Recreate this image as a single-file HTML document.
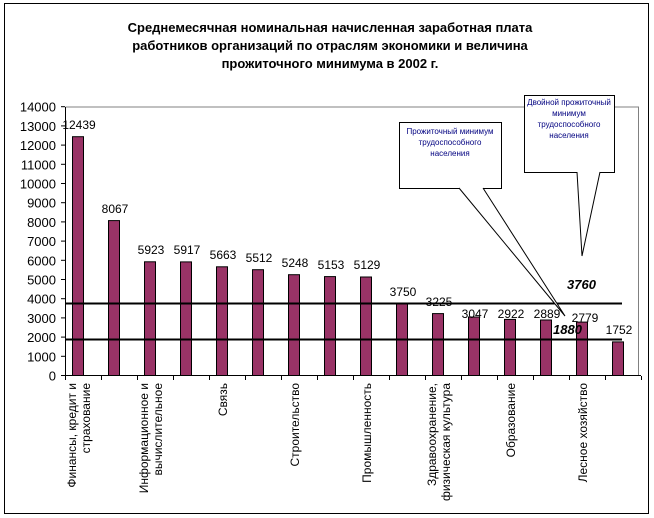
<!DOCTYPE html>
<html><head><meta charset="utf-8"><style>body{margin:0;background:#fff}svg{display:block}text{font-family:"Liberation Sans",sans-serif}</style></head><body>
<svg width="654" height="518" xmlns="http://www.w3.org/2000/svg">
<rect x="4.5" y="3.5" width="644" height="510" fill="#fff" stroke="#000"/>
<g font-weight="bold" font-size="13" text-anchor="middle">
<text x="330" y="32">Среднемесячная номинальная начисленная заработная плата</text>
<text x="330" y="50">работников организаций по отраслям экономики и величина</text>
<text x="330" y="68">прожиточного минимума в 2002 г.</text>
</g>
<polyline points="65.5,107 638.5,107 638.5,376" fill="none" stroke="#808080"/>
<line x1="65.5" y1="107" x2="65.5" y2="376" stroke="#000"/>
<line x1="65" y1="375.5" x2="641" y2="375.5" stroke="#000"/>
<g stroke="#000">
<line x1="61" x2="65" y1="375.5" y2="375.5"/><line x1="61" x2="65" y1="356.3" y2="356.3"/><line x1="61" x2="65" y1="337.1" y2="337.1"/><line x1="61" x2="65" y1="317.9" y2="317.9"/><line x1="61" x2="65" y1="298.7" y2="298.7"/><line x1="61" x2="65" y1="279.5" y2="279.5"/><line x1="61" x2="65" y1="260.3" y2="260.3"/><line x1="61" x2="65" y1="241.1" y2="241.1"/><line x1="61" x2="65" y1="221.9" y2="221.9"/><line x1="61" x2="65" y1="202.7" y2="202.7"/><line x1="61" x2="65" y1="183.5" y2="183.5"/><line x1="61" x2="65" y1="164.3" y2="164.3"/><line x1="61" x2="65" y1="145.1" y2="145.1"/><line x1="61" x2="65" y1="125.9" y2="125.9"/><line x1="61" x2="65" y1="106.7" y2="106.7"/>
<line x1="65.5" x2="65.5" y1="376" y2="380"/><line x1="101.5" x2="101.5" y1="376" y2="380"/><line x1="137.5" x2="137.5" y1="376" y2="380"/><line x1="173.5" x2="173.5" y1="376" y2="380"/><line x1="209.5" x2="209.5" y1="376" y2="380"/><line x1="245.5" x2="245.5" y1="376" y2="380"/><line x1="281.5" x2="281.5" y1="376" y2="380"/><line x1="317.5" x2="317.5" y1="376" y2="380"/><line x1="353.5" x2="353.5" y1="376" y2="380"/><line x1="389.5" x2="389.5" y1="376" y2="380"/><line x1="425.5" x2="425.5" y1="376" y2="380"/><line x1="461.5" x2="461.5" y1="376" y2="380"/><line x1="497.5" x2="497.5" y1="376" y2="380"/><line x1="533.5" x2="533.5" y1="376" y2="380"/><line x1="569.5" x2="569.5" y1="376" y2="380"/><line x1="605.5" x2="605.5" y1="376" y2="380"/><line x1="641.5" x2="641.5" y1="376" y2="380"/>
</g>
<g font-size="13" text-anchor="end">
<text x="56" y="380.5">0</text><text x="56" y="361.3">1000</text><text x="56" y="342.1">2000</text><text x="56" y="322.9">3000</text><text x="56" y="303.7">4000</text><text x="56" y="284.5">5000</text><text x="56" y="265.3">6000</text><text x="56" y="246.1">7000</text><text x="56" y="226.9">8000</text><text x="56" y="207.7">9000</text><text x="56" y="188.5">10000</text><text x="56" y="169.3">11000</text><text x="56" y="150.1">12000</text><text x="56" y="130.9">13000</text><text x="56" y="111.7">14000</text>
</g>
<g fill="#993366" stroke="#000">
<rect x="72.5" y="136.7" width="11" height="238.8"/><rect x="108.5" y="220.6" width="11" height="154.9"/><rect x="144.5" y="261.8" width="11" height="113.7"/><rect x="180.5" y="261.9" width="11" height="113.6"/><rect x="216.5" y="266.8" width="11" height="108.7"/><rect x="252.5" y="269.7" width="11" height="105.8"/><rect x="288.5" y="274.7" width="11" height="100.8"/><rect x="324.5" y="276.6" width="11" height="98.9"/><rect x="360.5" y="277" width="11" height="98.5"/><rect x="396.5" y="303.5" width="11" height="72"/><rect x="432.5" y="313.6" width="11" height="61.9"/><rect x="468.5" y="317" width="11" height="58.5"/><rect x="504.5" y="319.4" width="11" height="56.1"/><rect x="540.5" y="320" width="11" height="55.5"/><rect x="576.5" y="322.1" width="11" height="53.4"/><rect x="612.5" y="341.9" width="11" height="33.6"/>
</g>
<g font-size="12" text-anchor="middle">
<text x="79" y="129">12439</text><text x="115" y="213">8067</text><text x="151" y="254">5923</text><text x="187" y="254">5917</text><text x="223" y="259">5663</text><text x="259" y="262">5512</text><text x="295" y="267">5248</text><text x="331" y="269">5153</text><text x="367" y="269">5129</text><text x="403" y="296">3750</text><text x="439" y="306">3225</text><text x="475" y="318">3047</text><text x="511" y="318">2922</text><text x="547" y="318">2889</text><text x="585" y="322">2779</text><text x="619" y="334">1752</text>
</g>
<line x1="65" y1="303.5" x2="622" y2="303.5" stroke="#000" stroke-width="2"/>
<line x1="65" y1="339.5" x2="622" y2="339.5" stroke="#000" stroke-width="2"/>
<text x="567" y="289" font-size="13" font-weight="bold" font-style="italic">3760</text>
<text x="553" y="334" font-size="13" font-weight="bold" font-style="italic">1880</text>
<g font-size="12" transform="rotate(-90)" text-anchor="end">
<text x="-383" y="76">Финансы, кредит и</text><text x="-383" y="90">страхование</text>
<text x="-383" y="148">Информационное и</text><text x="-383" y="162">вычислительное</text>
<text x="-383" y="227">Связь</text>
<text x="-383" y="299">Строительство</text>
<text x="-383" y="371">Промышленность</text>
<text x="-383" y="436">Здравоохранение,</text><text x="-383" y="450">физическая культура</text>
<text x="-383" y="515">Образование</text>
<text x="-383" y="587">Лесное хозяйство</text>
</g>
<rect x="399.5" y="122.5" width="102" height="66" fill="#fff" stroke="#000"/>
<polyline points="459,188 565,316 483,188" fill="#fff" stroke="#000"/>
<g font-size="8" text-anchor="middle" fill="#000080"><text x="450" y="134">Прожиточный минимум</text><text x="450" y="145">трудоспособного</text><text x="450" y="156">населения</text></g>
<rect x="524.5" y="95.5" width="90" height="77" fill="#fff" stroke="#000"/>
<polyline points="577,172 582,256 600,172" fill="#fff" stroke="#000"/>
<g font-size="8" text-anchor="middle" fill="#000080"><text x="569" y="105">Двойной прожиточный</text><text x="569" y="116">минимум</text><text x="569" y="127">трудоспособного</text><text x="569" y="138">населения</text></g>
</svg>
</body></html>
